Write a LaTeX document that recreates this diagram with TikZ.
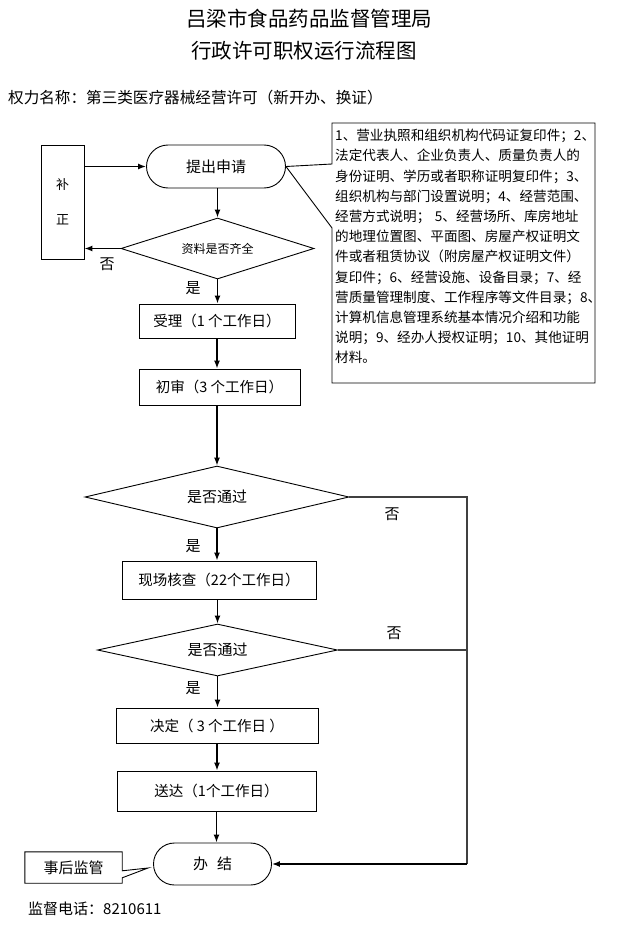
\documentclass[tikz,border=0pt]{standalone}
\usepackage{fontspec}
\setmainfont{Noto Sans CJK SC}
\usetikzlibrary{positioning,calc,shapes.geometric,shapes.misc,arrows.meta}

\begin{document}
\begin{tikzpicture}[
    x=1pt, y=-1pt,
    box/.style={draw, line width=0.9pt, inner sep=0pt, font=\fontsize{14.5}{17}\selectfont},
    term/.style={draw, rounded rectangle, line width=0.9pt, inner sep=0pt, font=\fontsize{15}{18}\selectfont},
    judge/.style={draw, diamond, line width=0.9pt, inner sep=0pt, font=\fontsize{15}{18}\selectfont},
    arr/.style={-{Latex[length=8pt,width=6pt]}, line width=1.4pt},
    back/.style={line width=1.1pt, draw=black!75},
    lbl/.style={inner sep=0pt, font=\fontsize{15}{18}\selectfont}
  ]
  \useasboundingbox (0,0) rectangle (617,928);

  % 标题
  \node[font=\fontsize{20.5}{24}\selectfont] (t1) at (309,19) {吕梁市食品药品监督管理局};
  \node[font=\fontsize{20.5}{24}\selectfont] (t2) at (304,51) {行政许可职权运行流程图};
  \node[anchor=west, inner sep=0pt, font=\fontsize{15.6}{18}\selectfont] (qlmc) at (8,98) {权力名称：第三类医疗器械经营许可（新开办、换证）};

  % 主流程
  \node[term, minimum width=139, minimum height=43] (sq) at (216,166.5) {提出申请};
  \node[box, minimum width=43, minimum height=114, align=center, font=\fontsize{13}{16}\selectfont] (bz) at (62.5,202) {补\\[19pt]正};
  \node[judge, aspect=3.16, minimum width=193, minimum height=61, font=\fontsize{12}{14}\selectfont] (zl) at (217.5,248.5) {资料是否齐全};
  \node[box, minimum width=156, minimum height=34] (sl) at (217,321) {受理（1 个工作日）};
  \node[box, minimum width=161, minimum height=36] (cs) at (219.5,387) {初审（3 个工作日）};
  \node[judge, aspect=4.26, minimum width=264, minimum height=62] (tg1) at (217,497) {是否通过};
  \node[box, minimum width=194, minimum height=38] (hc) at (219,580) {现场核查（22个工作日）};
  \node[judge, aspect=4.6, minimum width=240, minimum height=52] (tg2) at (217.5,650) {是否通过};
  \node[box, minimum width=202, minimum height=35] (jd) at (217,725.5) {决定（ 3 个工作日 ）};
  \node[box, minimum width=199, minimum height=40] (sd) at (216.5,791) {送达（1个工作日）};
  \node[term, minimum width=118, minimum height=42] (bj) at (212.5,864) {办\hspace{0.6em}结};

  % 是/否
  \node[lbl] (f1) at (107,264) {否};
  \node[lbl] (s1) at (193,288) {是};
  \node[lbl] (f2) at (392,514) {否};
  \node[lbl] (s2) at (193,546) {是};
  \node[lbl] (f3) at (394,633) {否};
  \node[lbl] (s3) at (193,688) {是};

  % 箭头
  \draw[arr] (bz.east |- sq.west) -- (sq.west);
  \draw[arr] (zl.north |- sq.south) -- (zl.north);
  \draw[arr] (zl.west) -- (zl.west -| bz.east);
  \draw[arr] (zl.south) -- (zl.south |- sl.north);
  \draw[arr] (sl.south) -- (sl.south |- cs.north);
  \draw[arr] (tg1.north |- cs.south) -- (tg1.north);
  \draw[arr] (tg1.south) -- (tg1.south |- hc.north);
  \draw[arr] (tg2.north |- hc.south) -- (tg2.north);
  \draw[arr] (tg2.south) -- (tg2.south |- jd.north);
  \draw[arr] (jd.south) -- (jd.south |- sd.north);
  \draw[arr] (sd.south) -- (sd.south |- bj.north);

  % 不通过 -> 办结
  \coordinate (rt) at (467,0);
  \draw[back] (tg1.east) -- (tg1.east -| rt) -- (rt |- bj.east);
  \draw[back] (tg2.east) -- (tg2.east -| rt);
  \draw[arr] (rt |- bj.east) -- (bj.east);

  % 申请材料说明
  \coordinate (clnw) at (332,123);
  \coordinate (clse) at (595,383);
  \node[anchor=north west, inner sep=0pt, text width=257, align=left, font=\fontsize{13.6}{20.2}\selectfont] (cl) at (335,129) {%
    1、营业执照和组织机构代码证复印件；2、\\
    法定代表人、企业负责人、质量负责人的\\
    身份证明、学历或者职称证明复印件；3、\\
    组织机构与部门设置说明；4、经营范围、\\
    经营方式说明； 5、经营场所、库房地址\\
    的地理位置图、平面图、房屋产权证明文\\
    件或者租赁协议（附房屋产权证明文件）\\
    复印件；6、经营设施、设备目录；7、经\\
    营质量管理制度、工作程序等文件目录；8、\\
    计算机信息管理系统基本情况介绍和功能\\
    说明；9、经办人授权证明；10、其他证明\\
    材料。};
  \draw[line width=0.9pt] (clnw) -- ($(clnw)+(0,41)$) -- (sq.east) -- ($(clnw)+(0,105)$)
    -- (clnw |- clse) -- (clse) -- (clse |- clnw) -- cycle;

  % 事后监管
  \node[inner sep=0pt, minimum width=97, minimum height=31, font=\fontsize{15}{18}\selectfont] (sh) at (73.5,867.5) {事后监管};
  \coordinate (shtip) at ($(bj.west)+(-5,4)$);
  \draw[line width=0.9pt] (sh.north west) -- (sh.north east) -- ($(sh.north east)+(0,19)$) -- (shtip)
    -- ($(sh.north east)+(0,26)$) -- (sh.south east) -- (sh.south west) -- cycle;

  \node[anchor=west, inner sep=0pt, font=\fontsize{15}{18}\selectfont] (dh) at (28,909) {监督电话：8210611};
\end{tikzpicture}
\end{document}
